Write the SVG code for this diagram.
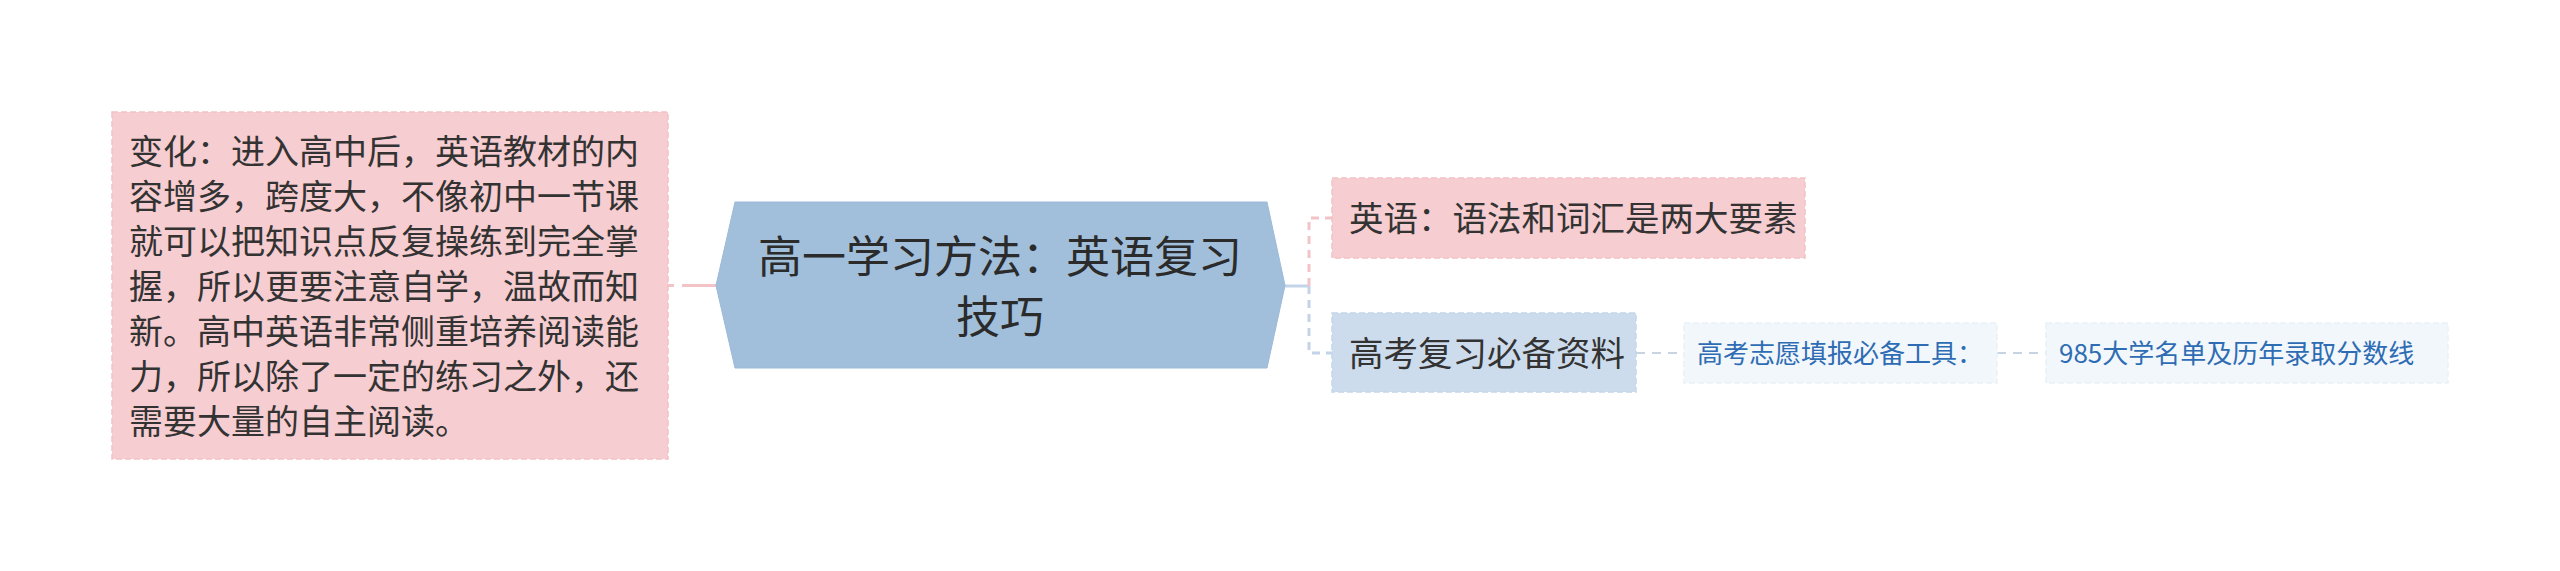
<svg xmlns="http://www.w3.org/2000/svg" width="2560" height="571" viewBox="0 0 2560 571">
<style>
text{font-family:"Noto Sans CJK SC","Noto Sans",sans-serif;}
.t2{font-size:34px;fill:#333333;}
.t1{font-size:44px;fill:#2b2b2b;}
.t3{font-size:26px;fill:#2e6cb3;}
.pink{fill:#f6cdd0;stroke:#f2c2c6;stroke-width:1.5;stroke-dasharray:6 3;}
.blue{fill:#cddcec;stroke:#c4d6e9;stroke-width:1.5;stroke-dasharray:6 3;}
.pale{fill:#f2f7fc;stroke:#eaf1f8;stroke-width:1.5;stroke-dasharray:6 3;}
.cp{fill:none;stroke:#f4c3c7;stroke-width:3;}
.cb{fill:none;stroke:#c3d4e8;stroke-width:3;}
.c3{fill:none;stroke:#c7d4e3;stroke-width:2;stroke-dasharray:9 7;}
</style>
<rect width="2560" height="571" fill="#ffffff"/>
<g id="connectors">
<line class="cp" x1="716" y1="285.5" x2="668" y2="285.5" stroke-dasharray="34 8"/>
<line class="cb" x1="1285" y1="286" x2="1309" y2="286"/>
<path class="cp" d="M1309 286 V218 H1332" stroke-dasharray="8 6"/>
<path class="cb" d="M1309 286 V353 H1332" stroke-dasharray="8 6"/>
<line class="c3" x1="1636" y1="353" x2="1684" y2="353"/>
<line class="c3" x1="1997" y1="353" x2="2046" y2="353"/>
</g>
<g id="root">
<polygon points="716,285.5 735,202 1267,202 1285,285.5 1267,368 735,368" fill="#a1bfdb" stroke="#9cbad7" stroke-width="1"/>
<text class="t1" x="1000" y="273" text-anchor="middle">高一学习方法：英语复习</text>
<text class="t1" x="1000" y="333" text-anchor="middle">技巧</text>
</g>
<g id="node-left">
<rect class="pink" x="112" y="112" width="556" height="347"/>
<text class="t2" x="129" y="164">变化：进入高中后，英语教材的内</text>
<text class="t2" x="129" y="209">容增多，跨度大，不像初中一节课</text>
<text class="t2" x="129" y="254">就可以把知识点反复操练到完全掌</text>
<text class="t2" x="129" y="299">握，所以更要注意自学，温故而知</text>
<text class="t2" x="129" y="344">新。高中英语非常侧重培养阅读能</text>
<text class="t2" x="129" y="389">力，所以除了一定的练习之外，还</text>
<text class="t2" x="129" y="434">需要大量的自主阅读。</text>
</g>
<g id="node-english">
<rect class="pink" x="1332" y="178" width="473" height="80"/>
<text class="t2" x="1349" y="231" style="font-size:34.5px">英语：语法和词汇是两大要素</text>
</g>
<g id="node-material">
<rect class="blue" x="1332" y="313" width="304" height="79"/>
<text class="t2" x="1349" y="366" style="font-size:34.5px">高考复习必备资料</text>
</g>
<g id="node-tool">
<rect class="pale" x="1684" y="323" width="313" height="60"/>
<text class="t3" x="1697" y="363">高考志愿填报必备工具：</text>
</g>
<g id="node-985">
<rect class="pale" x="2046" y="323" width="402" height="60"/>
<text class="t3" x="2059" y="363">985大学名单及历年录取分数线</text>
</g>
</svg>
